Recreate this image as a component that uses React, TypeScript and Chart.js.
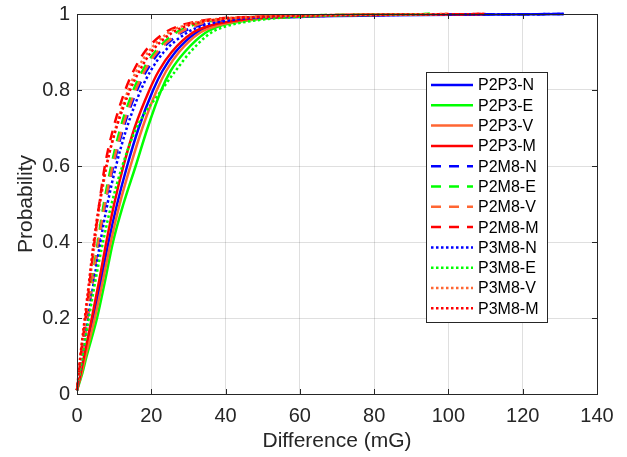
import React, { useEffect, useRef } from "react";
import { Chart, registerables } from "chart.js";

Chart.register(...registerables);

// Probability levels shared by all empirical CDF curves
const probLevels = [0.01, 0.05, 0.1, 0.2, 0.3, 0.4, 0.5, 0.6, 0.7, 0.8, 0.85, 0.9, 0.95, 0.97, 0.98, 0.99, 1];

// Difference (mG) at each probability level, per series
const p2p3N = [0, 1.0, 2.1, 4.4, 6.5, 8.5, 10.8, 13.5, 16.6, 20.5, 23.0, 26.5, 32.0, 37, 42, 52, 131];
const p2p3E = [0, 1.3, 2.6, 5.4, 7.6, 9.7, 12.5, 15.8, 19.0, 22.7, 25.2, 29.0, 34.5, 39, 44, 53, 95];
const p2p3V = [0, 1.1, 2.3, 4.8, 7.0, 9.1, 11.5, 14.4, 17.6, 21.5, 24.0, 27.5, 33.0, 38, 43, 52, 100];
const p2p3M = [0, 0.9, 1.9, 4.0, 6.0, 7.9, 10.0, 12.5, 15.5, 19.5, 22.0, 25.5, 31.0, 36, 41, 50, 110];
const p2m8N = [0, 0.6, 1.3, 2.8, 4.3, 5.9, 7.6, 9.8, 12.5, 16.2, 18.7, 22.2, 28.0, 33, 37, 46, 131];
const p2m8E = [0, 0.6, 1.2, 2.7, 4.1, 5.6, 7.2, 9.2, 11.7, 15.2, 17.6, 21.0, 26.5, 31, 35, 44, 95];
const p2m8V = [0, 0.6, 1.3, 2.8, 4.3, 5.8, 7.5, 9.6, 12.2, 15.8, 18.2, 21.6, 27.5, 32, 36, 45, 100];
const p2m8M = [0, 0.5, 1.0, 2.3, 3.5, 4.7, 6.0, 7.5, 9.8, 13.0, 15.2, 18.2, 23.5, 28, 32, 41, 110];
const p3m8N = [0, 0.7, 1.4, 3.0, 4.6, 6.3, 8.2, 10.5, 13.4, 17.2, 19.8, 23.4, 29.5, 34, 39, 48, 131];
const p3m8E = [0, 0.7, 1.5, 3.2, 5.0, 7.0, 9.3, 12.2, 16.0, 22.8, 26.5, 30.5, 36.0, 41, 46, 55, 95];
const p3m8V = [0, 0.5, 1.0, 2.3, 3.5, 4.8, 6.2, 8.0, 10.4, 13.8, 16.0, 19.2, 24.5, 29, 33, 42, 100];
const p3m8M = [0, 0.4, 0.9, 2.1, 3.3, 4.5, 6.0, 7.9, 10.6, 14.3, 16.8, 20.0, 25.5, 30, 34, 43, 110];

const seriesLabels = [
  "P2P3-N", "P2P3-E", "P2P3-V", "P2P3-M",
  "P2M8-N", "P2M8-E", "P2M8-V", "P2M8-M",
  "P3M8-N", "P3M8-E", "P3M8-V", "P3M8-M",
];
const seriesValues = [p2p3N, p2p3E, p2p3V, p2p3M, p2m8N, p2m8E, p2m8V, p2m8M, p3m8N, p3m8E, p3m8V, p3m8M];

const xTicks = [0, 20, 40, 60, 80, 100, 120, 140];
const yTicks = [0, 0.2, 0.4, 0.6, 0.8, 1];

const COLORS = ["#0000ff", "#00ff00", "#ff6633", "#ff0000"];
const DASHES: number[][] = [[], [10, 8], [2.5, 2.5]];
const FONT = "'Liberation Sans', Arial, Helvetica, sans-serif";
const TEXT = "#262626";

const boxPlugin = {
  id: "matlabBox",
  afterDatasetsDraw(chart: any) {
    const { ctx, chartArea: a, scales } = chart;
    ctx.save();
    ctx.strokeStyle = TEXT;
    ctx.lineWidth = 1;
    ctx.setLineDash([]);
    ctx.beginPath();
    const tl = 5;
    for (const v of xTicks) {
      const px = Math.round(scales.x.getPixelForValue(v)) + 0.5;
      ctx.moveTo(px, a.bottom);
      ctx.lineTo(px, a.bottom - tl);
      ctx.moveTo(px, a.top);
      ctx.lineTo(px, a.top + tl);
    }
    for (const v of yTicks) {
      const py = Math.round(scales.y.getPixelForValue(v)) + 0.5;
      ctx.moveTo(a.left, py);
      ctx.lineTo(a.left + tl, py);
      ctx.moveTo(a.right, py);
      ctx.lineTo(a.right - tl, py);
    }
    ctx.stroke();
    ctx.strokeRect(Math.round(a.left) + 0.5, Math.round(a.top) + 0.5, Math.round(a.right - a.left), Math.round(a.bottom - a.top));

    // legend
    const lx = a.right - 171;
    const ly = a.top + 58;
    const w = 121;
    const rowH = 20.3;
    const h = 250;
    ctx.fillStyle = "#ffffff";
    ctx.fillRect(lx, ly, w, h);
    ctx.strokeStyle = TEXT;
    ctx.lineWidth = 1;
    ctx.strokeRect(Math.round(lx) + 0.5, Math.round(ly) + 0.5, w, h);
    ctx.font = `16px ${FONT}`;
    ctx.textBaseline = "middle";
    ctx.textAlign = "left";
    chart.data.datasets.forEach((ds: any, i: number) => {
      const cy = ly + 13 + i * rowH;
      ctx.strokeStyle = ds.borderColor;
      ctx.lineWidth = ds.borderWidth;
      ctx.setLineDash(ds.borderDash || []);
      ctx.beginPath();
      ctx.moveTo(lx + 5, cy);
      ctx.lineTo(lx + 47, cy);
      ctx.stroke();
      ctx.setLineDash([]);
      ctx.fillStyle = "#000000";
      ctx.fillText(ds.label, lx + 52, cy + 1);
    });
    ctx.restore();
  },
};

export default function App() {
  const ref = useRef<HTMLCanvasElement>(null);
  useEffect(() => {
    document.body.style.margin = "0";
    const datasets = seriesValues.map((xs, i) => ({
      label: seriesLabels[i],
      data: xs.map((x, j) => ({ x, y: probLevels[j] })),
      borderColor: COLORS[i % 4],
      backgroundColor: COLORS[i % 4],
      borderWidth: 2.5,
      borderDash: DASHES[Math.floor(i / 4)],
      showLine: true,
      pointRadius: 0,
      cubicInterpolationMode: "monotone" as const,
      fill: false,
      clip: false as const,
      order: -i,
    }));
    const chart = new Chart(ref.current!, {
      type: "scatter",
      data: { datasets },
      options: {
        animation: false,
        responsive: false,
        devicePixelRatio: 1,
        layout: { padding: { top: 14, right: 30, left: 0, bottom: 0 } },
        plugins: { legend: { display: false }, tooltip: { enabled: false } },
        scales: {
          x: {
            type: "linear",
            min: 0,
            max: 140,
            afterBuildTicks: (s: any) => { s.ticks = xTicks.map((v) => ({ value: v })); },
            afterFit: (s: any) => { s.height = 63; s.paddingLeft = 0; s.paddingRight = 0; },
            grid: { color: "rgba(38,38,38,0.15)", drawTicks: false },
            border: { display: false },
            ticks: { color: TEXT, font: { family: FONT, size: 20 }, padding: 10, maxRotation: 0 },
            title: { display: true, text: "Difference (mG)", color: TEXT, font: { family: FONT, size: 21 }, padding: { top: 0, bottom: 3 } },
          },
          y: {
            type: "linear",
            min: 0,
            max: 1,
            afterBuildTicks: (s: any) => { s.ticks = yTicks.map((v) => ({ value: v })); },
            afterFit: (s: any) => { s.width = 77; s.paddingTop = 0; s.paddingBottom = 0; },
            grid: { color: "rgba(38,38,38,0.15)", drawTicks: false },
            border: { display: false },
            ticks: { color: TEXT, font: { family: FONT, size: 20 }, padding: 7, callback: (v: any) => String(Math.round(Number(v) * 10) / 10) },
            title: { display: true, text: "Probability", color: TEXT, font: { family: FONT, size: 21 }, padding: { top: 14, bottom: 0 } },
          },
        },
      },
      plugins: [boxPlugin],
    });
    return () => chart.destroy();
  }, []);
  return (
    <div style={{ width: 627, height: 457 }}>
      <canvas ref={ref} width={627} height={457} style={{ display: "block" }} />
    </div>
  );
}
